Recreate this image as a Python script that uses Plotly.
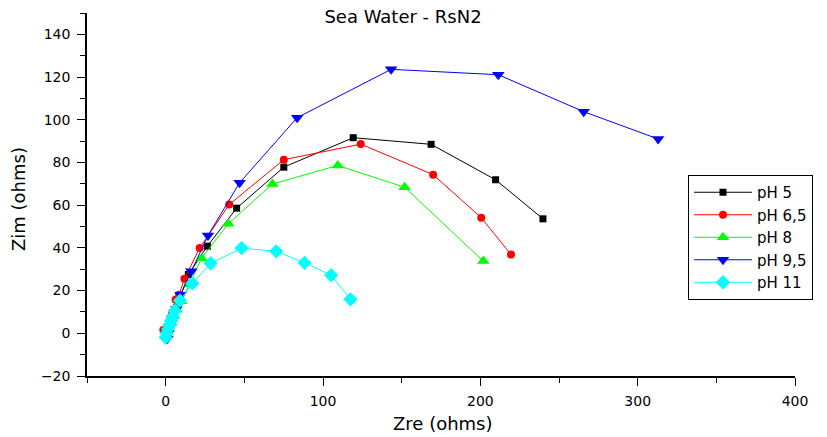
import plotly.graph_objects as go

# Nyquist data, sea water, RsN2 electrode, at five pH values
ph5_zre = [1.5, 2.5, 3.5, 5.0, 7.0, 9.5, 14.4, 26.5, 45.1, 75.1, 119.2, 168.7, 209.7, 239.8]
ph5_zim = [-1.0, 2.0, 5.0, 8.0, 12.0, 17.0, 27.5, 40.8, 58.6, 77.8, 91.6, 88.5, 71.9, 53.6]

ph65_zre = [-1.5, 1.0, 2.5, 4.0, 6.3, 8.5, 11.9, 21.6, 40.4, 75.1, 124.0, 170.0, 200.6, 219.5]
ph65_zim = [1.6, 3.0, 6.0, 9.0, 15.7, 18.0, 25.5, 39.9, 60.3, 81.3, 88.6, 74.3, 54.1, 36.9]

ph8_zre = [1.0, 2.0, 3.5, 5.0, 7.0, 10.0, 15.0, 22.9, 39.8, 67.9, 109.4, 151.9, 201.9]
ph8_zim = [-1.0, 2.0, 5.0, 8.0, 11.0, 15.0, 23.0, 35.2, 51.3, 69.9, 78.6, 68.4, 33.8]

ph95_zre = [1.0, 1.5, 3.0, 4.5, 6.8, 9.5, 16.3, 26.9, 47.0, 83.6, 143.3, 211.4, 265.7, 313.0]
ph95_zim = [-2.5, 0.0, 3.0, 7.0, 11.4, 18.1, 29.0, 45.8, 70.5, 101.0, 123.6, 121.1, 103.8, 91.0]

ph11_zre = [0.0, 0.5, 1.5, 2.5, 3.5, 4.5, 5.9, 9.1, 17.0, 28.6, 48.3, 70.3, 88.3, 105.2, 117.5]
ph11_zim = [-2.0, 0.0, 2.0, 4.0, 6.0, 8.0, 10.6, 15.3, 23.4, 32.8, 39.9, 38.4, 33.0, 27.2, 15.9]

series = [
    ("pH 5", ph5_zre, ph5_zim, "#000000", "square", 7),
    ("pH 6,5", ph65_zre, ph65_zim, "#ff0000", "circle", 8),
    ("pH 8", ph8_zre, ph8_zim, "#00ff00", "triangle-up", 11),
    ("pH 9,5", ph95_zre, ph95_zim, "#0000ff", "triangle-down", 11),
    ("pH 11", ph11_zre, ph11_zim, "#00ffff", "diamond", 11),
]

FONT = "DejaVu Sans, Verdana, sans-serif"

# plot-area geometry in pixels, used to place the axis titles
W, H = 827, 437
L, R, T, B = 87, 32, 13, 61
PW, PH = W - L - R, H - T - B

fig = go.Figure()
for name, xs, ys, color, symbol, size in series:
    fig.add_trace(go.Scatter(
        x=xs, y=ys, name=name, mode="lines+markers",
        line=dict(color=color, width=1),
        marker=dict(symbol=symbol, size=size, color=color, line=dict(width=0)),
    ))

axis_common = dict(
    showline=True, linecolor="black", linewidth=1.5,
    ticks="outside", ticklen=8, tickwidth=1.2, tickcolor="black",
    showgrid=False, zeroline=False, mirror=False, automargin=False,
    tickfont=dict(family=FONT, size=14, color="black"),
)

fig.update_layout(
    width=W, height=H,
    margin=dict(l=L, r=R, t=T, b=B),
    paper_bgcolor="white", plot_bgcolor="white",
    font=dict(family=FONT, color="black"),
    title=dict(text="Sea Water - RsN2", x=403 / W, xanchor="center",
               y=1 - 17 / H, yanchor="middle",
               font=dict(family=FONT, size=18, color="black")),
    xaxis=dict(
        range=[-50, 400], tick0=0, dtick=100,
        minor=dict(dtick=50, ticklen=5, ticks="outside", tickcolor="black", tickwidth=1.2),
        ticklabelstandoff=3,
        **axis_common,
    ),
    yaxis=dict(
        range=[-20, 150], tick0=0, dtick=20,
        minor=dict(dtick=10, ticklen=5, ticks="outside", tickcolor="black", tickwidth=1.2),
        ticklabelstandoff=4,
        **axis_common,
    ),
    legend=dict(
        x=(688 - L) / PW, y=(H - B - 175) / PH, xanchor="left", yanchor="top",
        bordercolor="black", borderwidth=1, bgcolor="white",
        font=dict(family=FONT, size=15, color="black"),
        tracegroupgap=0, itemwidth=58,
    ),
    showlegend=True,
)

# axis titles
fig.add_annotation(text="Zre (ohms)", xref="paper", yref="paper",
                   x=(443 - L) / PW, y=-(423 - (H - B)) / PH,
                   xanchor="center", yanchor="middle", showarrow=False,
                   font=dict(family=FONT, size=18, color="black"))
fig.add_annotation(text="Zim (ohms)", xref="paper", yref="paper",
                   x=(18 - L) / PW, y=((H - B) - 199) / PH, textangle=-90,
                   xanchor="center", yanchor="middle", showarrow=False,
                   font=dict(family=FONT, size=18, color="black"))

fig.write_html("out.html")
